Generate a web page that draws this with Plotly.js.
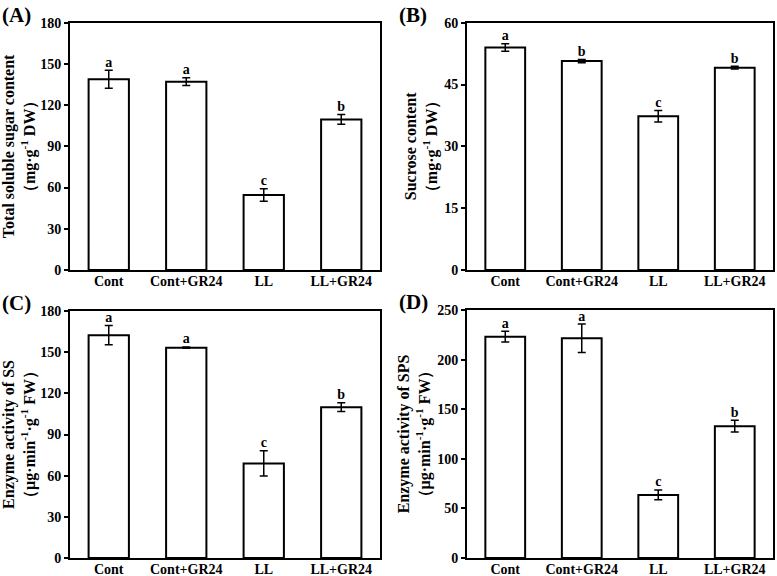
<!DOCTYPE html>
<html><head><meta charset="utf-8">
<script src="https://cdn.plot.ly/plotly-3.0.1.min.js"></script>
<style>body{margin:0;padding:0;background:#fff}#chart{width:777px;height:576px}</style>
</head><body><div id="chart"></div>
<script>
const categories = ["Cont", "Cont+GR24", "LL", "LL+GR24"];
const sugarVals = [138.8, 137.1, 54.6, 109.6];
const sugarErr = [6.5, 2.8, 4.6, 3.5];
const sugarLetters = ["a", "a", "c", "b"];
const sucroseVals = [54.0, 50.7, 37.3, 49.1];
const sucroseErr = [0.9, 0.4, 1.4, 0.35];
const sucroseLetters = ["a", "b", "c", "b"];
const ssVals = [162.4, 153.3, 68.9, 109.9];
const ssErr = [7.0, 0.5, 9.2, 3.2];
const ssLetters = ["a", "a", "c", "b"];
const spsVals = [223.1, 221.5, 63.6, 132.9];
const spsErr = [5.4, 14.3, 5.0, 6.0];
const spsLetters = ["a", "a", "c", "b"];
const yTitles = [
  "<b>Total soluble sugar content<br>（mg·g<sup>-1</sup> DW）</b>",
  "<b>Sucrose content<br>（mg·g<sup>-1</sup> DW）</b>",
  "<b>Enzyme activity of SS<br>（μg·min<sup>-1</sup>·g<sup>-1</sup> FW）</b>",
  "<b>Enzyme activity of SPS<br>（μg·min<sup>-1</sup>·g<sup>-1</sup> FW）</b>"
];
const panelLabels = ["(A)", "(B)", "(C)", "(D)"];
const yRanges = [[0, 180], [0, 60], [0, 180], [0, 250]];
const yDtick = [30, 15, 30, 50];

const W = 777, H = 576;
const font = "Liberation Serif, Times New Roman, serif";
const panels = [
  {v: sugarVals, e: sugarErr, l: sugarLetters, px: [70, 380], py: [22.7, 270]},
  {v: sucroseVals, e: sucroseErr, l: sucroseLetters, px: [467, 773], py: [22.7, 270]},
  {v: ssVals, e: ssErr, l: ssLetters, px: [70, 380], py: [311, 558]},
  {v: spsVals, e: spsErr, l: spsLetters, px: [467, 773], py: [310, 558]}
];
const data = [];
const layout = {
  width: W, height: H, margin: {l: 0, r: 0, t: 0, b: 0},
  paper_bgcolor: "#fff", plot_bgcolor: "#fff", showlegend: false,
  font: {family: font, color: "#000"}, annotations: []
};
panels.forEach((p, i) => {
  const n = i + 1;
  const xa = n === 1 ? "x" : "x" + n, ya = n === 1 ? "y" : "y" + n;
  data.push({
    type: "bar", x: categories, y: p.v, xaxis: xa, yaxis: ya, width: 0.52,
    marker: {color: "#fff", line: {color: "#000", width: 2}},
    error_y: {type: "data", array: p.e, visible: true, color: "#000", thickness: 1.5, width: 4}
  });
  data.push({
    type: "scatter", mode: "text", x: categories, y: p.v.map((v, k) => v + p.e[k]),
    text: p.l.map(s => "<b>" + s + "</b>"), textposition: "top center", xaxis: xa, yaxis: ya, cliponaxis: false,
    textfont: {family: font, size: 14, color: "#000"}
  });
  const xk = n === 1 ? "xaxis" : "xaxis" + n, yk = n === 1 ? "yaxis" : "yaxis" + n;
  layout[xk] = {
    domain: [p.px[0] / W, p.px[1] / W], anchor: ya, range: [-0.5, 3.5],
    showline: true, mirror: true, linecolor: "#000", linewidth: 2, ticks: "",
    showgrid: false, zeroline: false, fixedrange: true, ticklabelstandoff: -3,
    tickfont: {family: font, size: 14, color: "#000", weight: "bold"}
  };
  layout[yk] = {
    domain: [1 - p.py[1] / H, 1 - p.py[0] / H], anchor: xa, range: yRanges[i], dtick: yDtick[i],
    showline: true, mirror: true, linecolor: "#000", linewidth: 2, ticks: "outside", ticklen: 4,
    tickwidth: 2, tickcolor: "#000", showgrid: false, zeroline: false,
    tickfont: {family: font, size: 14, color: "#000", weight: "bold"},
    title: {text: yTitles[i], font: {family: font, size: 16, color: "#000"}, standoff: 3}
  };
  layout.annotations.push({
    text: "<b>" + panelLabels[i] + "</b>", xref: "paper", yref: "paper",
    x: (p.px[0] - 70) / W, y: 1 - (p.py[0] - 22) / H, xanchor: "left", yanchor: "top",
    showarrow: false, font: {family: font, size: 21, color: "#000"}
  });
});
Plotly.newPlot("chart", data, layout, {staticPlot: true});
</script></body></html>
